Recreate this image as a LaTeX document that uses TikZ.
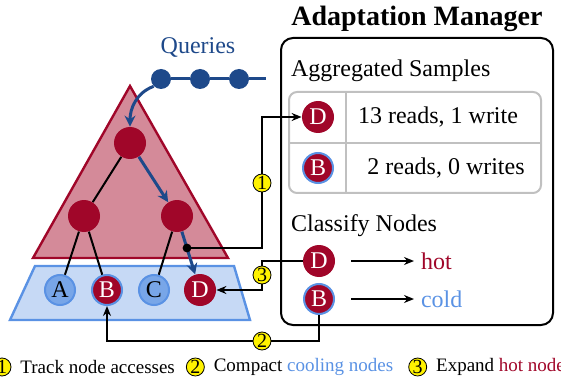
\documentclass[tikz,border=0pt]{standalone}
\usepackage{fontspec}
\setmainfont{Liberation Serif}
\usetikzlibrary{positioning,arrows.meta}

\definecolor{hotred}{RGB}{160,6,41}
\definecolor{hotfill}{RGB}{212,138,153}
\definecolor{coldblue}{RGB}{90,146,228}
\definecolor{coldfill}{RGB}{198,217,245}
\definecolor{leafblue}{RGB}{120,166,232}
\definecolor{qblue}{RGB}{30,73,138}
\definecolor{tabgray}{RGB}{192,192,192}

\begin{document}
\begin{tikzpicture}[x=0.5pt,y=-0.5pt,font=\fontsize{12}{14}\selectfont,
		hot node/.style = {circle,fill=hotred,text=white,inner sep=0pt,minimum size=16pt},
		cold node/.style = {circle,fill=leafblue,draw=coldblue,line width=1pt,inner sep=0pt,minimum size=15pt},
		cooling node/.style = {hot node,draw=coldblue,line width=1pt,minimum size=15pt},
		query dot/.style = {circle,fill=qblue,inner sep=0pt,minimum size=10pt},
		num mark/.style = {circle,draw,fill=yellow,inner sep=0pt,minimum size=9pt,font=\fontsize{10}{10}\selectfont},
		conn/.style = {line width=1pt,-{Stealth[length=5pt,width=4pt]}},
		qarrow/.style = {qblue,line width=1.5pt,-{Stealth[length=5.5pt,width=5.5pt]}},
		legend/.style = {font=\fontsize{9.5}{11}\selectfont}]
		\useasboundingbox (0,0) rectangle (561,379);
		
		% hot and cold regions
		\draw[hotred,fill=hotfill,line width=1.2pt] (130,86) -- (228,258) -- (33,258) -- cycle;
		\draw[coldblue,fill=coldfill,line width=1.2pt] (35,266) -- (234,266) -- (250,320) -- (10,320) -- cycle;
		
		% tree
		\node[hot node] (root) at (130,143) {};
		\node[hot node] (l) at (84,216) {};
		\node[hot node] (r) at (177,216) {};
		\node[cold node] (A) at (60,290) {A};
		\node[cooling node] (B) at (107,290) {B};
		\node[cold node] (C) at (154,290) {C};
		\node[hot node] (D) at (200,290) {D};
		
		\draw[line width=1pt] (root)--(l)--(A);
		\draw[line width=1pt] (l)--(B);
		\draw[line width=1pt] (r)--(C);
		\draw[qarrow] (root)--(r);
		\draw[qarrow] (r)--(D);
		
		% queries
		\node[qblue] (queries) at (198,48) {Queries};
		\node[query dot] (q1) at (161,79) {};
		\node[query dot] (q2) at (200,79) {};
		\node[query dot] (q3) at (239,79) {};
		\coordinate (qend) at (266,79);
		\draw[qblue,line width=1.5pt] (q1)--(q2)--(q3)--(qend);
		\draw[qarrow] (q1.south west) to[out=200,in=90] (root.north);
		
		% adaptation manager
		\node[font=\bfseries\fontsize{14}{16}\selectfont] (title) at (417,19) {Adaptation Manager};
		\draw[line width=1pt,rounded corners=6pt] (281,38) rectangle (553,325);
		\node[anchor=west] (agg) at (284,71) {Aggregated Samples};
		\draw[tabgray,line width=1pt,rounded corners=4pt] (289,92) rectangle (541,193);
		\draw[tabgray,line width=1pt] (289,143) -- (541,143);
		\draw[tabgray,line width=1pt] (346,92) -- (346,193);
		\node[hot node] (tD) at (318,117) {D};
		\node (tDtext) at (438,117) {13 reads, 1 write};
		\node[cooling node] (tB) at (318,168) {B};
		\node (tBtext) at (446,168) {2 reads, 0 writes};
		
		\node[anchor=west] (classify) at (284,226) {Classify Nodes};
		\node[hot node] (cD) at (319,261) {D};
		\node[cooling node] (cB) at (319,299) {B};
		\node[hotred,anchor=west] (hot) at (414,261) {hot};
		\node[coldblue,anchor=west] (cold) at (414,299) {cold};
		\draw[conn] ([xshift=8pt]cD.east) -- (hot);
		\draw[conn] ([xshift=8pt]cB.east) -- (cold);
		
		% steps
		\coordinate (tap) at (187,248);
		\coordinate (c1) at (262,117);
		\coordinate (c3) at (262,290);
		\coordinate (c2) at (107,341);
		\fill (tap) circle (2.2pt);
		\draw[conn] (tap) -| (c1) -- (tD);
		\draw[conn] (cD) -| (c3) -- (D);
		\draw[conn] (cB) |- (c2) -- (B);
		\node[num mark] (s1) at (262,183) {1};
		\node[num mark] (s3) at (262,275) {3};
		\node[num mark] (s2) at (262,341) {2};
		
		% legend
		\node[num mark] (k1) at (2,367) {1};
		\node[legend,right=1pt of k1] (t1) {Track node accesses};
		\node[num mark,right=2pt of t1] (k2) {2};
		\node[legend,right=1pt of k2] (t2) {Compact \textcolor{coldblue}{cooling nodes}};
		\node[num mark,right=4pt of t2] (k3) {3};
		\node[legend,right=1pt of k3] (t3) {Expand \textcolor{hotred}{hot nodes}};
\end{tikzpicture}
\end{document}
